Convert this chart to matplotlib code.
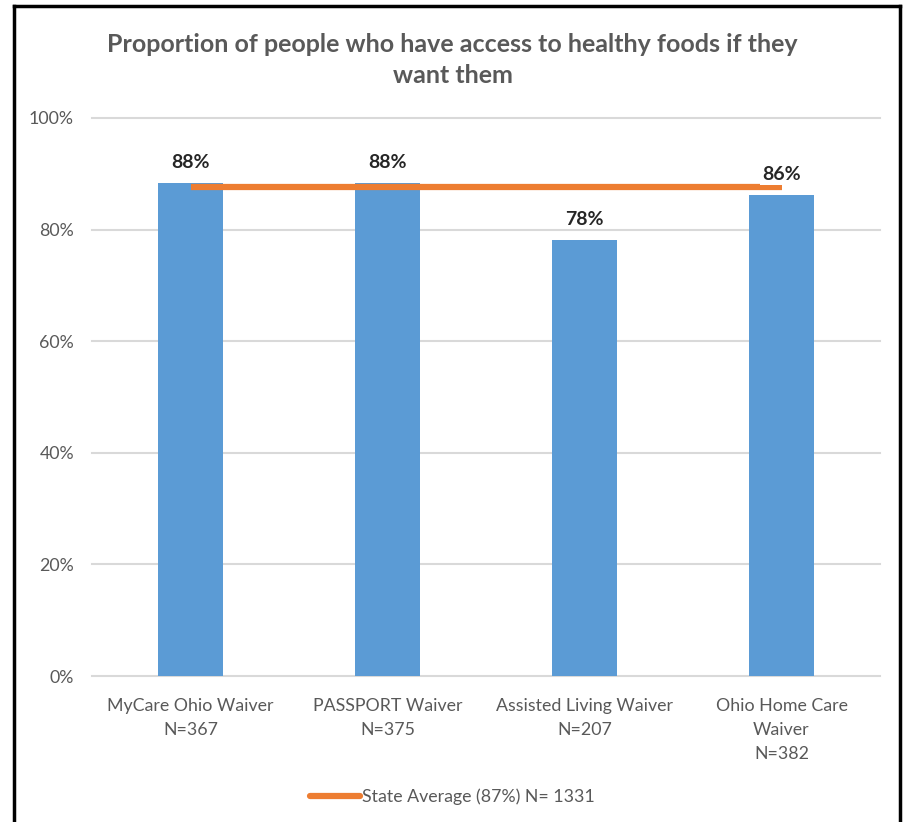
import matplotlib.pyplot as plt
from matplotlib.lines import Line2D
import numpy as np

categories = ["MyCare Ohio Waiver\nN=367", "PASSPORT Waiver\nN=375",
              "Assisted Living Waiver\nN=207", "Ohio Home Care\nWaiver\nN=382"]
values = [0.883, 0.883, 0.781, 0.862]
labels = ["88%", "88%", "78%", "86%"]
state_avg = 0.876
state_label = "State Average (87%) N= 1331"
yticks = [0, 0.2, 0.4, 0.6, 0.8, 1.0]
ytick_labels = ["0%", "20%", "40%", "60%", "80%", "100%"]

plt.rcParams['font.family'] = ['Lato', 'DejaVu Sans']
grey = '#595959'
blue = '#5B9BD5'
orange = '#ED7D31'

fig = plt.figure(figsize=(9.05, 8.22), dpi=100)
ax = fig.add_axes([92/905, 1 - 676/822, (880-92)/905, (676-118)/822])

x = np.arange(len(categories))
ax.bar(x, values, width=0.33, color=blue, zorder=2)
ax.plot(x, [state_avg]*len(x), color=orange, lw=4.5, zorder=3, solid_capstyle='butt')

for xi, v, lab in zip(x, values, labels):
    ax.text(xi, v + 0.022, lab, ha='center', va='bottom', fontsize=14, fontweight='bold',
            color='#262626', zorder=4,
            bbox=dict(facecolor='white', edgecolor='none', pad=1.5) if xi == 3 else None)

ax.set_xlim(-0.5, 3.5)
ax.set_ylim(0, 1.0)
ax.set_yticks(yticks)
ax.set_yticklabels(ytick_labels, fontsize=12.8, color=grey)
ax.set_xticks(x)
ax.set_xticklabels(categories, fontsize=12.8, color=grey, linespacing=1.6)
ax.tick_params(length=0)
ax.tick_params(axis='x', pad=16)
ax.tick_params(axis='y', pad=13)
ax.yaxis.grid(True, color='#D9D9D9', lw=1.5, zorder=0)
for gl in ax.get_ygridlines():
    gl.set_clip_on(False)
for s in ax.spines.values():
    s.set_visible(False)

fig.text(0.5, 1 - 60/822, "Proportion of people who have access to healthy foods if they\nwant them",
         ha='center', va='center', fontsize=18, fontweight='bold', color=grey, linespacing=1.45)

handle = Line2D([0], [0], color=orange, lw=4.5, solid_capstyle='round')
fig.legend([handle], [state_label], loc='center', bbox_to_anchor=(0.5, 1 - 797/822),
           frameon=False, fontsize=12.8, labelcolor=grey, handlelength=2.8, handletextpad=0.1)

# outer frame
fig.add_artist(Line2D([14/905, 14/905], [0, 1 - 6/822], color='black', lw=2.5, transform=fig.transFigure))
fig.add_artist(Line2D([14/905, 900/905], [1 - 6/822, 1 - 6/822], color='black', lw=2.5, transform=fig.transFigure))
fig.add_artist(Line2D([900/905, 900/905], [0, 1 - 6/822], color='black', lw=2.5, transform=fig.transFigure))

fig.savefig("out.png", dpi=100)
